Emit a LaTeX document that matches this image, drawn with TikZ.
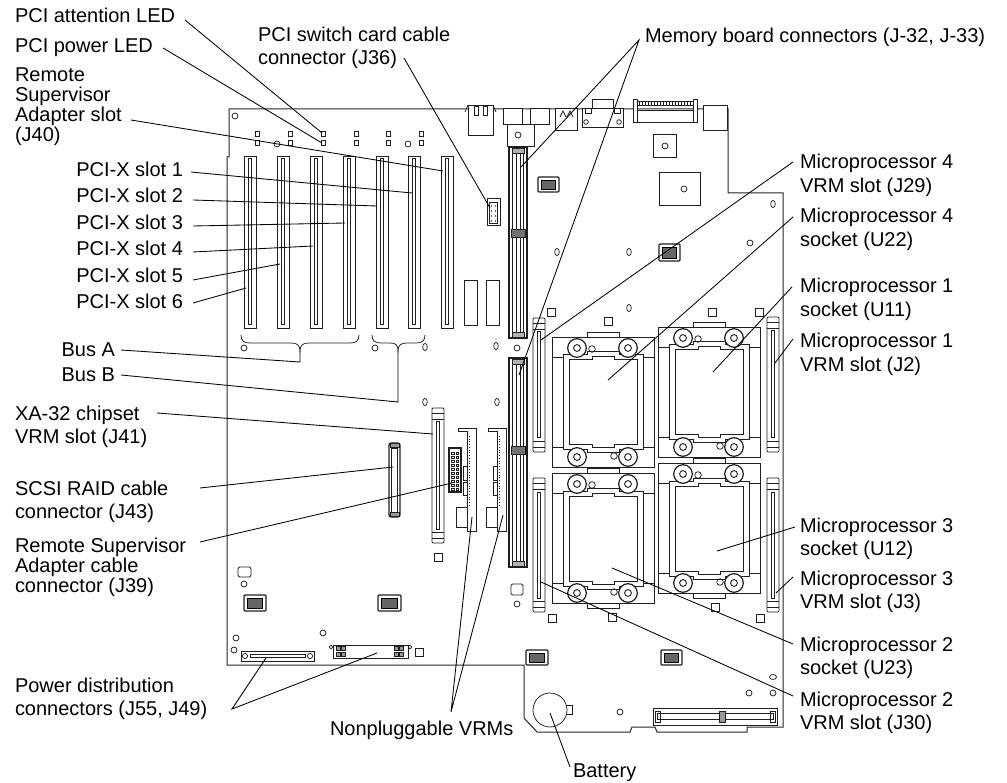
\documentclass[tikz,border=0pt]{standalone}
\usepackage{fontspec}
\setmainfont{Liberation Sans}
\newcommand\fl{\rule{0pt}{15pt}}
\newcommand\pslot[1]{%
  \draw[part,fill=white] (#1,156) rectangle ({#1+12.5},328);
  \draw[part,line width=1pt] ({#1+4.7},159) rectangle ({#1+7.8},325);}
\newcommand\vslot[3]{%
  \draw[part,fill=white,rounded corners=1pt] (#1,#2) rectangle ({#1+12},#3);
  \draw[part] (#1,{#2+5}) -- ({#1+12},{#2+5}) (#1,{#2+11}) -- ({#1+12},{#2+11});
  \draw[part] (#1,{#3-5}) -- ({#1+12},{#3-5}) (#1,{#3-11}) -- ({#1+12},{#3-11});
  \draw[part,line width=1pt] ({#1+4.5},{#2+14}) rectangle ({#1+7.5},{#3-14});}
\newcommand\cpusock[2]{%
 \begin{scope}[shift={(#1,#2)}]
  \draw[part,fill=white] (35,-5) rectangle (67,1);
  \draw[part,fill=white] (35,129) rectangle (67,135);
  \draw[part,fill=white] (0,0) rectangle (102,130);
  \draw[part] (0,20) -- (11,20) (91,20) -- (102,20) (0,110) -- (11,110) (91,110) -- (102,110);
  \draw[part,line width=1pt] (11,18) -- (35,18) -- (35,15) -- (67,15) -- (67,18) -- (91,18) -- (91,113) -- (67,113) -- (67,116) -- (35,116) -- (35,113) -- (11,113) -- cycle;
  \draw[part,line width=1pt] (17,23) -- (40,23) -- (40,20) -- (62,20) -- (62,23) -- (85,23) -- (85,108) -- (62,108) -- (62,111) -- (40,111) -- (40,108) -- (17,108) -- cycle;
  \foreach \mx/\my in {25/11,76/11,25/120,76/120}{%
    \draw[part,line width=1.2pt,fill=white] (\mx,\my) circle (9.3);
    \draw[part,line width=0.9pt] (\mx,\my) circle (3.4);}
  \draw[part] (40,12) circle (3.3) (62,119) circle (3.3);
 \end{scope}}
\newcommand\chipat[4]{%
  \draw[part,line width=1.1pt,fill=white,rounded corners=1pt] (#1,#2) rectangle (#3,#4);
  \draw[draw=black,fill=black!60,line width=0.5pt] ({#1+3.5},{#2+3}) rectangle ({#3-3.5},{#4-3});}
\newcommand\sqr[2]{\draw[part] ({#1-4},{#2-4}) rectangle ({#1+4},{#2+4});}
\newcommand\hole[2]{\draw[part] (#1,#2) circle (3);}
\newcommand\ovl[2]{\draw[part] (#1,#2) ellipse (2.3 and 3.6);}
\newcommand\memconn[3]{%
  \draw[part,line width=1.2pt,fill=white] (509,#1) rectangle (527,#2);
  \draw[part] (512.5,{#1+4}) rectangle (523.5,{#2-4});
  \draw[part] (516,{#1+6}) -- (516,{#2-6}) (520,{#1+6}) -- (520,{#2-6});
  \draw[part,fill=black!55] (511,{#3-4}) rectangle (525,{#3+4});
  \draw[part,fill=black!30] (512,{#1+1}) rectangle (524,{#1+6});
  \draw[part,fill=black!30] (512,{#2-6}) rectangle (524,{#2-1});}
\newcommand\nonvrm[1]{%
  \draw[part,fill=white] (#1,428) -- ({#1+18},428) -- ({#1+18},531) -- ({#1+9},531) -- ({#1+9},431.5) -- (#1,431.5) -- cycle;
  \draw[part,dotted,line width=0.8pt] ({#1+11},436) -- ({#1+11},506);
  \draw[part] ({#1+5},466) rectangle ({#1+9},480);
  \draw[part] ({#1+5},482) rectangle ({#1+9},495);
  \draw[part] ({#1-2},507) rectangle ({#1+9},527);}
\begin{document}
\begin{tikzpicture}[x=1pt,y=-1pt,
  lbl/.style={font=\fontsize{20}{23.5}\selectfont, inner sep=0pt, outer sep=0pt, align=left, anchor=north west, text=black},
  lbltight/.style={lbl, font=\fontsize{20}{20}\selectfont},
  lblr/.style={lbl, align=right, anchor=north east},
  lead/.style={draw=black, line width=0.85pt},
  part/.style={draw=black!88, line width=0.75pt},
  boardline/.style={draw=black!85, line width=1pt}]
\useasboundingbox[fill=white] (0,0) rectangle (1007,783);

% ---------- board outline ----------
\draw[boardline] (229,109) -- (728,109) -- (728,193) -- (783,193) -- (783,727) -- (747,727) -- (747,732) -- (657,732) -- (655,727) -- (632,727) -- (630,732) -- (537,732) -- (524,718) -- (524,665) -- (227,665) -- (227,157) -- (229,157) -- cycle;

% ---------- top edge connectors ----------
\draw[part,fill=white] (468,105) rectangle (493,135);
\draw[part] (474,106) rectangle (478,115) (483,106) rectangle (487,115);
\draw[part] (465,112) -- (468,105) (496,112) -- (493,105);
\draw[part,fill=white] (503,108) rectangle (522,124);
\draw[part,fill=white] (530,108) rectangle (549,124);
\draw[part,fill=white] (507,124) rectangle (534,146);
\hole{518}{135}
\draw[part,fill=white] (555,108) rectangle (577,130);
\draw[part] (560,117) -- (563,111) -- (566,117) (567,117) -- (570,111) -- (573,117);
\draw[part,fill=white] (592,99) rectangle (613,108);
\draw[part,fill=white] (582,108) rectangle (623,127);
\draw[part] (585,108) rectangle (591,113) (614,108) rectangle (620,113);
\draw[part] (586,122) circle (2.3) (619,122) circle (2.3);
\draw[part,fill=white] (633,99) rectangle (637,122);
\draw[part,fill=white] (693,99) rectangle (697,122);
\draw[part] (637,101) -- (693,101) (637,105) -- (693,105);
\foreach \tx in {639,642,...,691}{\draw[part,line width=0.5pt] (\tx,101) -- (\tx,105);}
\draw[part,fill=white] (637,110) rectangle (693,122);
\draw[part,fill=white] (703,105) rectangle (727,130);
\draw[part] (653,134) rectangle (676,157);
\hole{665}{146}
\draw[part] (659,172) rectangle (700,205);
\hole{684}{189}

% ---------- PCI area ----------
\hole{235}{116}
\foreach \lx in {257,290,323,356,388,421}{%
  \draw[part] ({\lx-2},131.5) rectangle ({\lx+2},136.5);
  \draw[part] ({\lx-2},140.5) rectangle ({\lx+2},145.5);}
\hole{277}{144}
\hole{408}{144}
\foreach \sx in {244,277,310,343,376,408,441}{\pslot{\sx}}
\draw[part,fill=white] (464,280) rectangle (477,325);
\draw[part,fill=white] (486,280) rectangle (499,325);
% J36
\draw[part,line width=1pt,fill=white] (487,199) rectangle (500,226);
\draw[part] (489.5,202) rectangle (497.5,223);
\foreach \py in {206,211,216,221}{\fill[black!70] (491.5,\py) circle (0.8) (495.5,\py) circle (0.8);}
% braces
\draw[part] (241,335) .. controls (241,341) and (244,343) .. (250,343) -- (291,343) .. controls (297,343) and (300,345) .. (300,351) .. controls (300,345) and (303,343) .. (309,343) -- (350,343) .. controls (356,343) and (359,341) .. (359,335);
\draw[part] (372,335) .. controls (372,341) and (375,343) .. (381,343) -- (390,343) .. controls (396,343) and (398,345) .. (398,351) .. controls (398,345) and (401,343) .. (407,343) -- (416,343) .. controls (422,343) and (425,341) .. (425,335);
\hole{244}{348}
\hole{375}{348}
\ovl{425}{347}
\ovl{496}{346}
\hole{517}{348}
\ovl{425}{402}
\ovl{497}{402}

% ---------- memory connectors ----------
\memconn{147}{338}{233}
\memconn{358}{567}{450}

% ---------- chips and small parts ----------
\chipat{538}{177}{559}{192}
\chipat{659}{244}{680}{261}
\chipat{244}{595}{266}{611}
\chipat{378}{595}{401}{611}
\chipat{526}{650}{548}{665}
\chipat{661}{650}{682}{665}
\ovl{557}{252}
\ovl{629}{252}
\ovl{629}{308}
\ovl{773}{204}
\hole{750}{243}
\sqr{551}{312}
\sqr{608}{321}
\sqr{712}{312}
\sqr{759}{312}
\sqr{552}{618}
\sqr{612}{617}
\sqr{715}{607}
\sqr{760}{618}
\sqr{438}{557}
\sqr{419}{652}
\draw[part,rounded corners=1.5pt] (511,584) rectangle (523,595);
\hole{517}{604}
\draw[part,rounded corners=1.5pt] (238,567) rectangle (251,577);
\hole{244}{584}
\hole{236}{638}
\hole{234}{650}
\hole{323}{633}

% ---------- sockets and VRM slots ----------
\cpusock{552}{337}
\cpusock{658}{327}
\cpusock{552}{473}
\cpusock{658}{463}
\vslot{533}{318}{452}
\vslot{767}{317}{452}
\vslot{533}{478}{612}
\vslot{767}{478}{612}
\vslot{432}{408}{543}

% J43 SCSI
\draw[part,line width=1.2pt,fill=white,rounded corners=2pt] (389,443) rectangle (400,517);
\draw[part] (391.5,448) rectangle (397.5,512);
\draw[part,fill=black!40] (390,443.5) rectangle (399,447.5) (390,512.5) rectangle (399,516.5);
% J39
\draw[part,line width=1.2pt,fill=white] (449,448) rectangle (461,492);
\foreach \py in {452,456,...,488}{\draw[part,line width=0.4pt] (451.5,\py) rectangle (454,{\py+2}) (456,\py) rectangle (458.5,{\py+2});}
% nonpluggable VRMs
\nonvrm{458}
\nonvrm{488}

% power connectors
\draw[part,line width=1pt,fill=white] (241,651) rectangle (314,661);
\draw[part] (250,654.5) rectangle (305,657.5);
\draw[part] (245,656) circle (2.6) (310,656) circle (2.6);
\draw[part,line width=1pt,fill=white] (333,645) rectangle (408,658);
\foreach \bx in {336,341,394,399}{\draw[part,fill=black!40] (\bx,646.5) rectangle ({\bx+4},650.5) (\bx,652.5) rectangle ({\bx+4},656.5);}
\draw[part] (331,647) circle (1.8) (410,647) circle (1.8);

% battery area
\draw[part,fill=white] (566,705) rectangle (572,714);
\draw[part,fill=white] (550,710) circle (17);
\hole{620}{712}
\draw[part,line width=1pt,fill=white] (653,708) rectangle (777,725);
\draw[part] (657,713.5) rectangle (773,719.5);
\draw[part,fill=black!40] (719,711) rectangle (725,722);
\draw[part] (655,711) rectangle (660,722) (770,711) rectangle (775,722);
\draw[part] (773,677) ellipse (3.5 and 2.5);
\hole{749}{693}
\hole{773}{693}

% ---------- labels ----------
\node[lbl] (tAtt) at (15,8) {\fl PCI attention LED};
\node[lbl] (tPow) at (15,38) {\fl PCI power LED};
\node[lbltight] (tRSA) at (15,67) {\fl Remote\\Supervisor\\Adapter slot\\(J40)};
\node[lblr] (tS1) at (183,161.5) {\fl PCI-X slot 1};
\node[lblr] (tS2) at (183,187.9) {\fl PCI-X slot 2};
\node[lblr] (tS3) at (183,214.3) {\fl PCI-X slot 3};
\node[lblr] (tS4) at (183,240.7) {\fl PCI-X slot 4};
\node[lblr] (tS5) at (183,267.1) {\fl PCI-X slot 5};
\node[lblr] (tS6) at (183,293.5) {\fl PCI-X slot 6};
\node[lblr] (tBA) at (115,342) {\fl Bus A};
\node[lblr] (tBB) at (115,367) {\fl Bus B};
\node[lbl] (tXA) at (15,405) {\fl XA-32 chipset\\VRM slot (J41)};
\node[lbl] (tSC) at (15,480) {\fl SCSI RAID cable\\connector (J43)};
\node[lbltight] (tRC) at (15,537) {\fl Remote Supervisor\\Adapter cable\\connector (J39)};
\node[lbl] (tPD) at (15,677) {\fl Power distribution\\connectors (J55, J49)};
\node[lbl] (tNV) at (330,720) {\fl Nonpluggable VRMs};
\node[lbl] (tBat) at (573,762) {\fl Battery};
\node[lbl] (tJ36) at (258,26.5) {\fl PCI switch card cable\\connector (J36)};
\node[lbl] (tMem) at (645,28) {\fl Memory board connectors (J-32, J-33)};
\node[lbl] (tJ29) at (800,154) {\fl Microprocessor 4\\VRM slot (J29)};
\node[lbl] (tU22) at (800,208) {\fl Microprocessor 4\\socket (U22)};
\node[lbl] (tU11) at (800,278) {\fl Microprocessor 1\\socket (U11)};
\node[lbl] (tJ2) at (800,333) {\fl Microprocessor 1\\VRM slot (J2)};
\node[lbl] (tU12) at (800,517) {\fl Microprocessor 3\\socket (U12)};
\node[lbl] (tJ3) at (800,570) {\fl Microprocessor 3\\VRM slot (J3)};
\node[lbl] (tU23) at (800,636) {\fl Microprocessor 2\\socket (U23)};
\node[lbl] (tJ30) at (800,691) {\fl Microprocessor 2\\VRM slot (J30)};

% ---------- leader coordinates ----------
\coordinate (aAtt) at (185,20);   \coordinate (bAtt) at (322,133);
\coordinate (aPow) at (163,48);   \coordinate (bPow) at (322,143);
\coordinate (aRSA) at (131,120);  \coordinate (bRSA) at (443,171);
\coordinate (aS1) at (191,172);   \coordinate (bS1) at (412,193);
\coordinate (aS2) at (193,200);   \coordinate (bS2) at (377,206);
\coordinate (aS3) at (193,226);   \coordinate (bS3) at (345,223);
\coordinate (aS4) at (193,252);   \coordinate (bS4) at (313,246);
\coordinate (aS5) at (193,280);   \coordinate (bS5) at (280,264);
\coordinate (aS6) at (193,303);   \coordinate (bS6) at (246,288);
\coordinate (aBA) at (121,350);   \coordinate (kBA) at (300,362); \coordinate (bBA) at (300,351);
\coordinate (aBB) at (121,375);   \coordinate (kBB) at (398,402); \coordinate (bBB) at (398,351);
\coordinate (aXA) at (157,413);   \coordinate (bXA) at (433,434);
\coordinate (aSC) at (200,488);   \coordinate (bSC) at (393,467);
\coordinate (aRC) at (200,542);   \coordinate (bRC) at (452,483);
\coordinate (aPD) at (232,709);   \coordinate (bPD1) at (266,658); \coordinate (bPD2) at (377,653);
\coordinate (aNV) at (451,712);   \coordinate (bNV1) at (472,517); \coordinate (bNV2) at (503,515);
\coordinate (aBat) at (570,767);  \coordinate (bBat) at (550,713);
\coordinate (aJ36) at (404,58);   \coordinate (bJ36) at (490,208);
\coordinate (aMem) at (639,40);   \coordinate (bMem1) at (521,167); \coordinate (bMem2) at (519,375);
\coordinate (aJ29) at (793,162);  \coordinate (bJ29) at (541,340);
\coordinate (aU22) at (793,217);  \coordinate (bU22) at (608,380);
\coordinate (aU11) at (792,287);  \coordinate (bU11) at (713,372);
\coordinate (aJ2) at (793,339);   \coordinate (bJ2) at (775,363);
\coordinate (aU12) at (795,527);  \coordinate (bU12) at (717,551);
\coordinate (aJ3) at (793,577);   \coordinate (bJ3) at (776,593);
\coordinate (aU23) at (793,644);  \coordinate (bU23) at (612,568);
\coordinate (aJ30) at (793,696);  \coordinate (bJ30) at (541,582);

\draw[lead] (aAtt) -- (bAtt);
\draw[lead] (aPow) -- (bPow);
\draw[lead] (aRSA) -- (bRSA);
\draw[lead] (aS1) -- (bS1);
\draw[lead] (aS2) -- (bS2);
\draw[lead] (aS3) -- (bS3);
\draw[lead] (aS4) -- (bS4);
\draw[lead] (aS5) -- (bS5);
\draw[lead] (aS6) -- (bS6);
\draw[lead] (aBA) -- (kBA) -- (bBA);
\draw[lead] (aBB) -- (kBB) -- (bBB);
\draw[lead] (aXA) -- (bXA);
\draw[lead] (aSC) -- (bSC);
\draw[lead] (aRC) -- (bRC);
\draw[lead] (bPD1) -- (aPD) -- (bPD2);
\draw[lead] (bNV1) -- (aNV) -- (bNV2);
\draw[lead] (aBat) -- (bBat);
\draw[lead] (aJ36) -- (bJ36);
\draw[lead] (bMem1) -- (aMem) -- (bMem2);
\draw[lead] (aJ29) -- (bJ29);
\draw[lead] (aU22) -- (bU22);
\draw[lead] (aU11) -- (bU11);
\draw[lead] (aJ2) -- (bJ2);
\draw[lead] (aU12) -- (bU12);
\draw[lead] (aJ3) -- (bJ3);
\draw[lead] (aU23) -- (bU23);
\draw[lead] (aJ30) -- (bJ30);
\end{tikzpicture}
\end{document}
